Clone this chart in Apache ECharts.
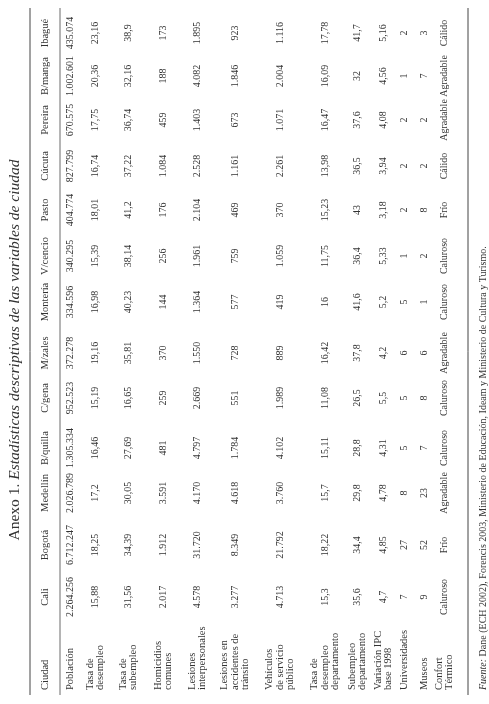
<!DOCTYPE html>
<html><head><meta charset="utf-8">
<script src="https://cdn.jsdelivr.net/npm/echarts@6/dist/echarts.min.js"></script>
<style>html,body{margin:0;padding:0;background:#fff}#c{width:489px;height:704px}</style>
</head><body><div id="c"></div>
<script>
const cities = ['Cali','Bogotá','Medellín','B/quilla','C/gena','M/zales','Montería','V/cencio','Pasto','Cúcuta','Pereira','B/manga','Ibagué'];
const rowLabels = ['Población','Tasa de\ndesempleo','Tasa de\nsubempleo','Homicidios\ncomunes','Lesiones\ninterpersonales','Lesiones en\naccidentes de\ntránsito','Vehículos\nde servicio\npúblico','Tasa de\ndesempleo\ndepartamento','Subempleo\ndepartamento','Variación IPC\nbase 1998','Universidades','Museos','Confort\nTérmico'];
const poblacion = ['2.264.256','6.712.247','2.026.789','1.305.334','952.523','372.278','334.596','340.295','404.774','827.799','670.575','1.002.601','435.074'];
const tasaDesempleo = ['15,88','18,25','17,2','16,46','15,19','19,16','16,98','15,39','18,01','16,74','17,75','20,36','23,16'];
const tasaSubempleo = ['31,56','34,39','30,05','27,69','16,65','35,81','40,23','38,14','41,2','37,22','36,74','32,16','38,9'];
const homicidios = ['2.017','1.912','3.591','481','259','370','144','256','176','1.084','459','188','173'];
const lesionesInter = ['4.578','31.720','4.170','4.797','2.669','1.550','1.364','1.961','2.104','2.528','1.403','4.082','1.895'];
const lesionesTransito = ['3.277','8.349','4.618','1.784','551','728','577','759','469','1.161','673','1.846','923'];
const vehiculos = ['4.713','21.792','3.760','4.102','1.989','889','419','1.059','370','2.261','1.071','2.004','1.116'];
const desempleoDepto = ['15,3','18,22','15,7','15,11','11,08','16,42','16','11,75','15,23','13,98','16,47','16,09','17,78'];
const subempleoDepto = ['35,6','34,4','29,8','28,8','26,5','37,8','41,6','36,4','43','36,5','37,6','32','41,7'];
const ipc = ['4,7','4,85','4,78','4,31','5,5','4,2','5,2','5,33','3,18','3,94','4,08','4,56','5,16'];
const universidades = ['7','27','8','5','5','6','5','1','2','2','2','1','2'];
const museos = ['9','52','23','7','8','6','1','2','8','2','2','7','3'];
const confort = ['Caluroso','Frío','Agradable','Caluroso','Caluroso','Agradable','Caluroso','Caluroso','Frío','Cálido','Agradable','Agradable','Cálido'];
const rows = [poblacion,tasaDesempleo,tasaSubempleo,homicidios,lesionesInter,lesionesTransito,vehiculos,desempleoDepto,subempleoDepto,ipc,universidades,museos,confort];
const headerLabel = 'Ciudad';
const titleA = 'Anexo 1. ';
const titleB = 'Estadísticas descriptivas de las variables de ciudad';
const fuenteA = 'Fuente:';
const fuenteB = ' Dane (ECH 2002), Forencis 2003, Ministerio de Educación, Ideam y Ministerio de Cultura y Turismo.';

const colU = [103,155,207,252,302,347,398,444,490,534,580,624,667];
const rowV = [70,95,128,163,197,235,280,325,357,383,404,424,444];
const FF = '"Liberation Serif","DejaVu Serif",serif';
const col = '#333';
const els = [];
function txt(u,v,t,size,align,extra){
  els.push({type:'text',x:u,y:v,style:Object.assign({text:t,fontFamily:FF,fontSize:size,fill:col,align:align||'center',verticalAlign:'middle',lineHeight:size+1},extra||{})});
}
function line(v,w){ els.push({type:'line',shape:{x1:5,y1:v,x2:692,y2:v},style:{stroke:'#444',lineWidth:w||1}}); }
els.push({type:'text',x:350,y:15,style:{text:'{a|'+titleA+'}{b|'+titleB+'}',align:'center',verticalAlign:'middle',rich:{a:{fontFamily:FF,fontSize:15.5,fill:col},b:{fontFamily:FF,fontSize:15.5,fontStyle:'italic',fill:col}}}});
line(30,1);line(60,0.8);line(468,1);
txt(10,45,headerLabel,10.5,'left');
cities.forEach((c,i)=>txt(colU[i],45,c,10.5));
rowLabels.forEach((r,j)=>{
  txt(10,rowV[j],r,10.5,'left',{lineHeight:10.5});
  rows[j].forEach((val,i)=>txt(colU[i],rowV[j],val,10));
});
els.push({type:'text',x:10,y:483,style:{text:'{a|'+fuenteA+'}{b|'+fuenteB+'}',align:'left',verticalAlign:'middle',rich:{a:{fontFamily:FF,fontSize:10,fontStyle:'italic',fill:col},b:{fontFamily:FF,fontSize:10,fill:col}}}});

const chart = echarts.init(document.getElementById('c'));
chart.setOption({
  animation:false,
  graphic:[{type:'group',x:0,y:700,rotation:Math.PI/2,children:els}]
});
</script></body></html>
